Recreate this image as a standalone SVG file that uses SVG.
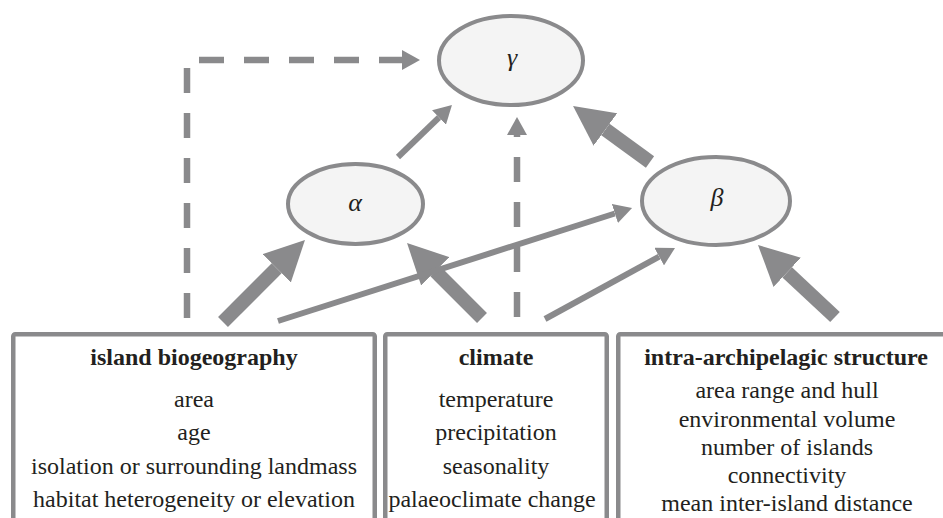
<svg xmlns="http://www.w3.org/2000/svg" width="943" height="518" viewBox="0 0 943 518">
<style>
.node{fill:#f4f4f4;stroke:#8a8a8c;stroke-width:4}
.box{fill:#ffffff;stroke:#8a8a8c;stroke-width:4.5}
text{font-family:'Liberation Serif','Times New Roman','DejaVu Serif',serif;fill:#231f20;text-anchor:middle}
.greek{font-style:italic;font-size:26px}
.title{font-weight:bold;font-size:24px}
.item{font-size:24px}
.thin{stroke:#8a8a8c;stroke-width:6;fill:none}
.thick{stroke:#8a8a8c;stroke-width:14;fill:none}
.dash{stroke:#8a8a8c;stroke-width:6.5;fill:none;stroke-dasharray:25 20}
</style>
<defs>
<marker id="hThin" viewBox="0 0 18 20" refX="0" refY="10" markerWidth="18" markerHeight="20" markerUnits="userSpaceOnUse" orient="auto">
<path d="M0,0 L18,10 L0,20 z" fill="#8a8a8c"/>
</marker>
<marker id="hThick" viewBox="0 0 40 40" refX="0" refY="20" markerWidth="40" markerHeight="40" markerUnits="userSpaceOnUse" orient="auto">
<path d="M0,0 L40,20 L0,40 z" fill="#8a8a8c"/>
</marker>
</defs>
<rect width="943" height="518" fill="#ffffff"/>

<g id="connectors">
<path class="dash" d="M187,318 V60 H402" marker-end="url(#hThin)"/>
<path class="dash" d="M517,317 V135" marker-end="url(#hThin)"/>
<path class="thin" d="M398,157 L439,117.5" marker-end="url(#hThin)"/>
<path class="thick" d="M650,162 L605.4,129.5" marker-end="url(#hThick)"/>
<path class="thick" d="M223,322 L276.7,268.3" marker-end="url(#hThick)"/>
<path class="thick" d="M482,318 L435.3,271.3" marker-end="url(#hThick)"/>
<path class="thin" d="M278,321 L614.9,213.5" marker-end="url(#hThin)"/>
<path class="thin" d="M545,319 L659.2,256.6" marker-end="url(#hThin)"/>
<path class="thick" d="M835,317 L787.2,272.3" marker-end="url(#hThick)"/>
</g>

<g id="gamma" font-family="Liberation Serif, serif">
<ellipse class="node" cx="511" cy="60.5" rx="72" ry="44.5"/>
<text class="greek" x="512" y="66" font-family="Liberation Serif, serif">γ</text>
</g>
<g id="alpha">
<ellipse class="node" cx="355.5" cy="204" rx="67.5" ry="40"/>
<text class="greek" x="355" y="211" font-family="Liberation Serif, serif">α</text>
</g>
<g id="beta">
<ellipse class="node" cx="716" cy="201" rx="74" ry="44"/>
<text class="greek" x="717" y="206" font-family="Liberation Serif, serif">β</text>
</g>

<g id="island-biogeography">
<rect class="box" x="13.25" y="334.25" width="361.5" height="200" rx="2"/>
<text class="title" x="194" y="365">island biogeography</text>
<text class="item" x="194" y="407">area</text>
<text class="item" x="194" y="440">age</text>
<text class="item" x="194" y="474">isolation or surrounding landmass</text>
<text class="item" x="194" y="507">habitat heterogeneity or elevation</text>
</g>
<g id="climate">
<rect class="box" x="385.25" y="334.25" width="221.5" height="200" rx="2"/>
<text class="title" x="496" y="365">climate</text>
<text class="item" x="496" y="407">temperature</text>
<text class="item" x="496" y="440">precipitation</text>
<text class="item" x="496" y="474">seasonality</text>
<text class="item" x="492" y="507">palaeoclimate change</text>
</g>
<g id="intra-archipelagic-structure">
<rect class="box" x="618.25" y="334.25" width="360" height="200" rx="2"/>
<text class="title" x="786" y="365">intra-archipelagic structure</text>
<text class="item" x="787" y="398">area range and hull</text>
<text class="item" x="787" y="427">environmental volume</text>
<text class="item" x="787" y="455">number of islands</text>
<text class="item" x="787" y="483">connectivity</text>
<text class="item" x="787" y="511">mean inter-island distance</text>
</g>
</svg>
